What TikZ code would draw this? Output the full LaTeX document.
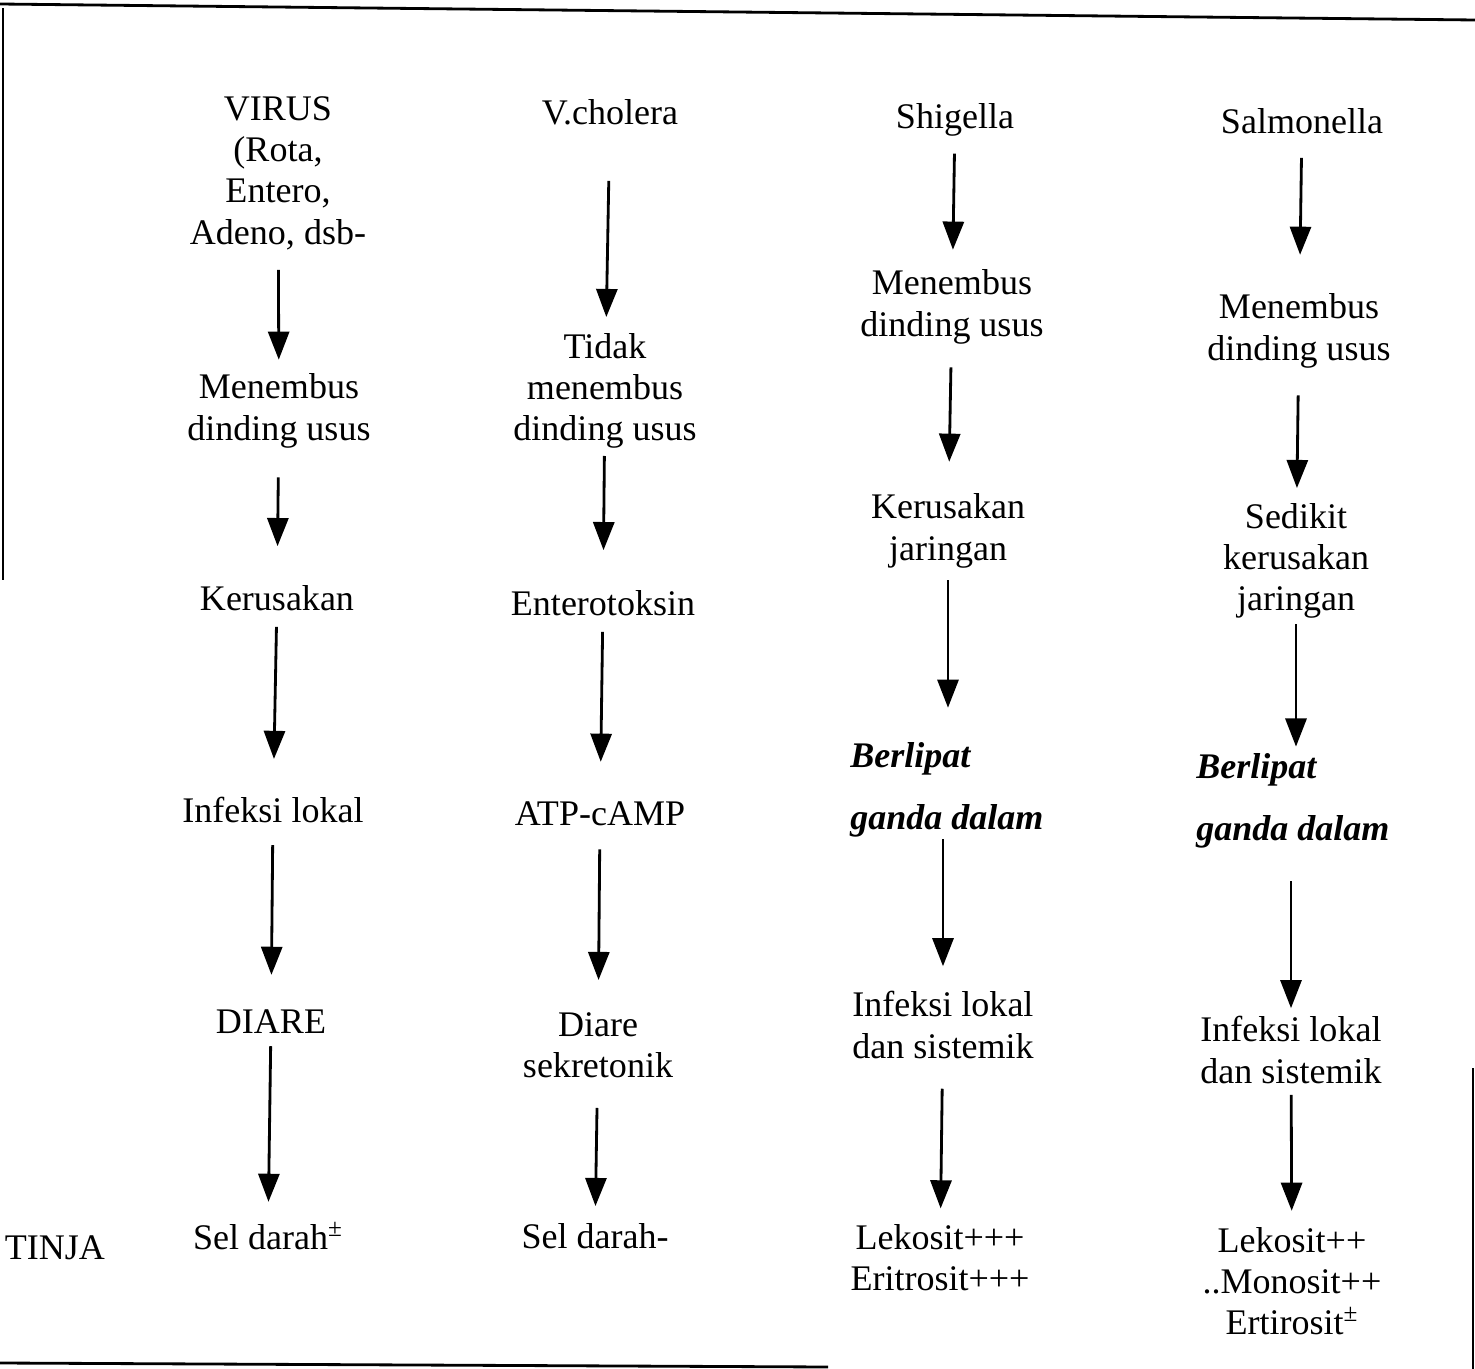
\documentclass[tikz,border=0pt]{standalone}
\usepackage{fontspec}
\setmainfont{Liberation Serif}
\usetikzlibrary{arrows.meta}
\tikzset{
    txt/.style={inner sep=0pt, align=center,
                font=\fontsize{20.5}{23.5}\selectfont},
    itxt/.style={txt, align=left, anchor=west,
                 font=\fontsize{20.5}{23.5}\selectfont\bfseries\itshape},
    flow/.style={-{Triangle[length=16pt, width=12pt]}, line width=1.6pt},
    gap/.style 2 args={shorten <=#1*0.567pt, shorten >=#2*0.567pt},
    frame/.style={line width=1.6pt},
}

\begin{document}
\begin{tikzpicture}[x=0.02cm, y=-0.02cm]
    \useasboundingbox (0,0) rectangle (1475,1369);
    % scanned frame
    \draw[frame] (0,4) -- (1475,20);
    \draw[frame, line width=1pt] (3,8) -- (3,580);
    \draw[frame] (0,1363) -- (828,1367);
    \draw[frame] (1473,1068) -- (1473,1369);

    % virus
    \node[txt] (vir)   at (278,173)  {VIRUS\\(Rota,\\Entero,\\Adeno, dsb-};
    \node[txt] (vmen)  at (279,411)  {Menembus\\dinding usus};
    \node[txt] (vker)  at (277,598)  {Kerusakan};
    \node[txt] (vinf)  at (273,810)  {Infeksi lokal};
    \node[txt] (vdia)  at (271,1022) {DIARE};
    \node[txt] (vsel)  at (268,1236) {Sel darah\textsuperscript{±}};
    \node[txt] (tinja) at (55,1248)  {TINJA};

    % v.cholera
    \node[txt] (chol)  at (610,112)  {V.cholera};
    \node[txt] (ctid)  at (605,391)  {Tidak\\menembus\\dinding usus};
    \node[txt] (cent)  at (603,603)  {Enterotoksin};
    \node[txt] (catp)  at (600,814)  {ATP-cAMP};
    \node[txt] (cdia)  at (598,1045) {Diare\\sekretonik};
    \node[txt] (csel)  at (595,1236) {Sel darah-};

    % shigella
    \node[txt] (shig)  at (955,120)  {Shigella};
    \node[txt] (smen)  at (952,307)  {Menembus\\dinding usus};
    \node[txt] (sker)  at (948,531)  {Kerusakan\\jaringan};
    \node[itxt] (sber) at (850,790)  {Berlipat\\[11.5pt]ganda dalam};
    \node[txt] (sinf)  at (943,1025) {Infeksi lokal\\dan sistemik};
    \node[txt] (slek)  at (940,1258) {Lekosit+++\\Eritrosit+++};

    % salmonella
    \node[txt] (salm)  at (1302,121) {Salmonella};
    \node[txt] (tmen)  at (1299,331) {Menembus\\dinding usus};
    \node[txt] (tsed)  at (1296,561) {Sedikit\\kerusakan\\jaringan};
    \node[itxt] (tber) at (1196,801) {Berlipat\\[11.5pt]ganda dalam};
    \node[txt] (tinf)  at (1291,1050) {Infeksi lokal\\dan sistemik};
    \node[txt] (tlek)  at (1292,1281) {Lekosit++\\..Monosit++\\Ertirosit\textsuperscript{±}};

    \draw[flow, gap={20}{14}] (vir)  -- (vmen);
    \draw[flow, gap={29}{39}] (vmen) -- (vker);
    \draw[flow, gap={16}{38}] (vker) -- (vinf);
    \draw[flow, gap={22}{35}] (vinf) -- (vdia);
    \draw[flow, gap={12}{20}] (vdia) -- (vsel);

    \draw[flow, gap={56}{16}] (chol) -- (ctid);
    \draw[flow, gap={7}{40}]  (ctid) -- (cent);
    \draw[flow, gap={16}{40}] (cent) -- (catp);
    \draw[flow, gap={23}{32}] (catp) -- (cdia);
    \draw[flow, gap={30}{17}] (cdia) -- (csel);

    \draw[flow, gap={17}{20}] (shig) -- (smen);
    \draw[flow, gap={23}{32}] (smen) -- (sker);
    \draw[flow, gap={12}{35}] (sker) -- (sber.north -| sker);
    \draw[flow, gap={2}{25}]  (sber.south -| sinf) -- (sinf);
    \draw[flow, gap={30}{16}] (sinf) -- (slek);

    \draw[flow, gap={24}{39}] (salm) -- (tmen);
    \draw[flow, gap={27}{15}] (tmen) -- (tsed);
    \draw[flow, gap={5}{7}]   (tsed) -- (tber.north -| tsed);
    \draw[flow, gap={33}{8}]  (tber.south -| tinf) -- (tinf);
    \draw[flow, gap={11}{16}] (tinf) -- (tlek);
\end{tikzpicture}
\end{document}
